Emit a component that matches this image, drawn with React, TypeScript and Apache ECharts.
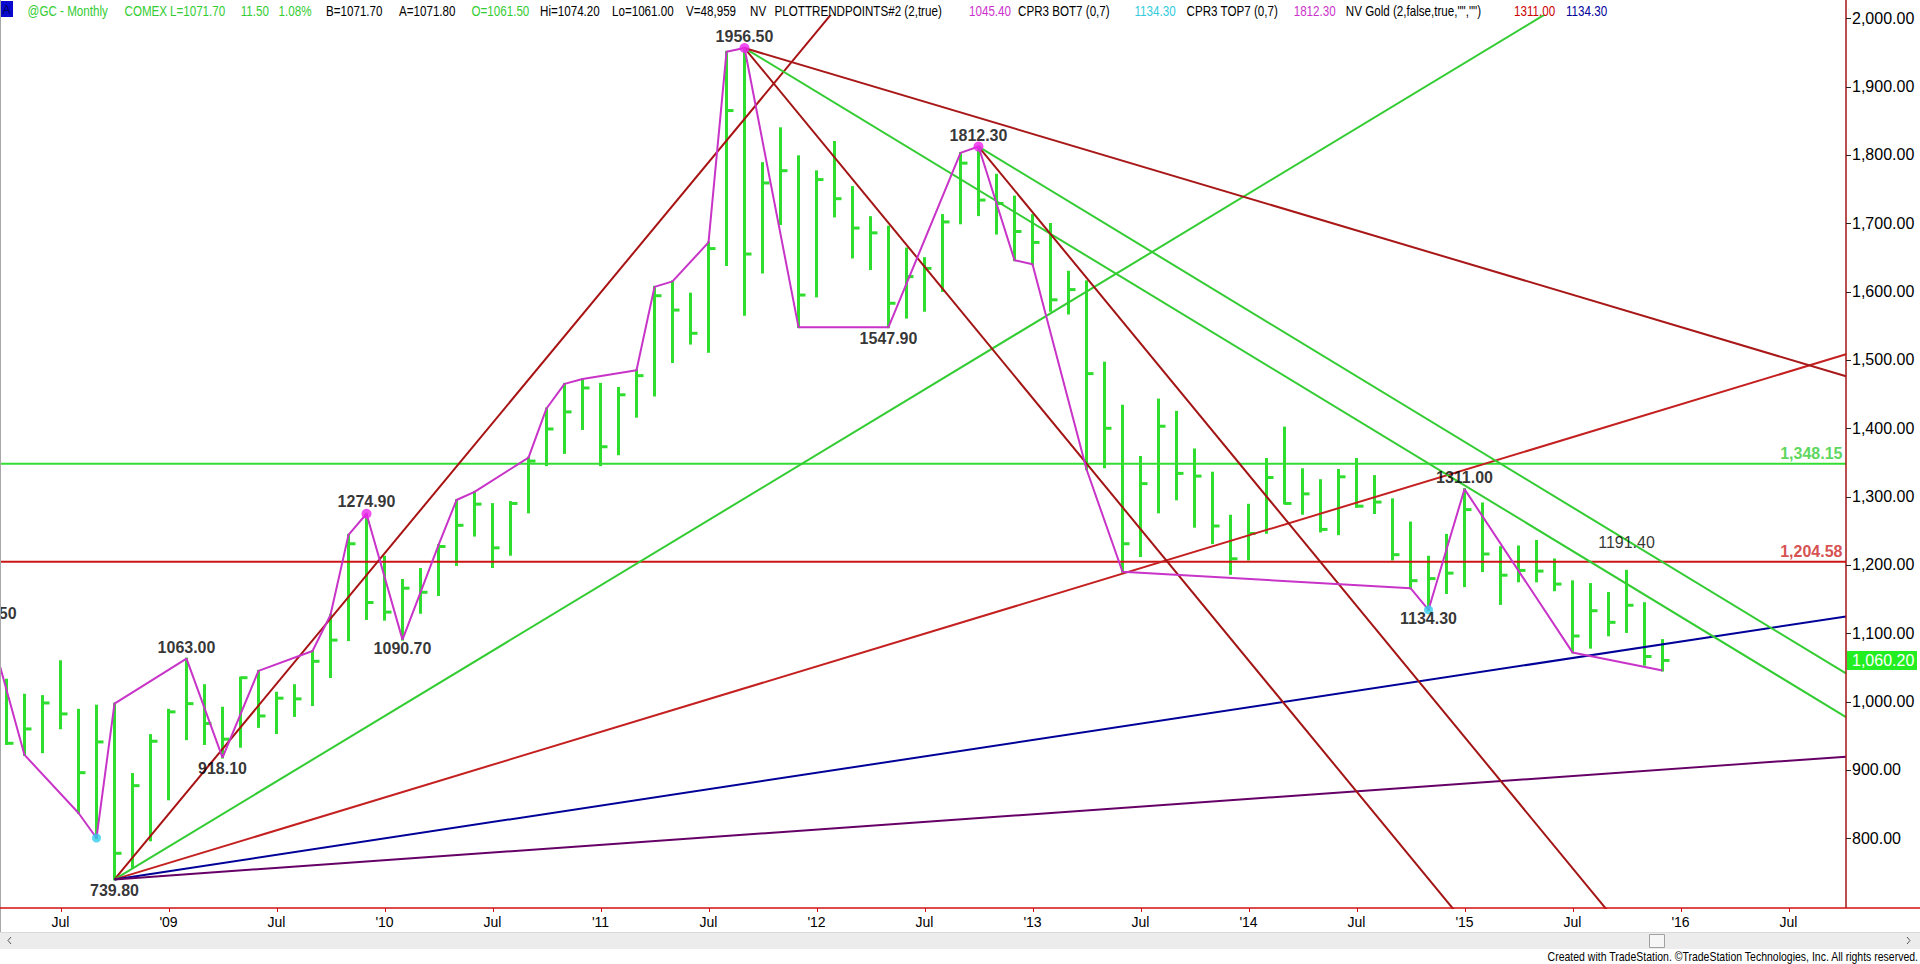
import { useEffect, useRef } from "react";
import * as echarts from "echarts";

const FONT = 'Arial, "Liberation Sans", Helvetica, sans-serif';

// Monthly bars, index 0 = Apr 2008 ... 92 = Dec 2015 (HLC)
const highs = [
  1032, 1010, 1008, 1059, 988, 994, 997, 894, 951, 988,
  1063, 1024, 991, 1035, 1045, 1013, 1024, 1074, 1127, 1244,
  1274.9, 1212, 1178, 1194, 1229, 1295, 1307, 1289, 1292, 1357,
  1429, 1465, 1472, 1465, 1459, 1485, 1607, 1615, 1597, 1672,
  1951, 1956.5, 1788, 1839, 1798, 1776, 1819, 1753, 1709, 1695,
  1663, 1649, 1712, 1803, 1812.3, 1771, 1739, 1712, 1699, 1629,
  1615, 1496, 1433, 1358, 1442, 1424, 1369, 1335, 1272, 1288,
  1355, 1401, 1340, 1324, 1339, 1355, 1330, 1296, 1262, 1212,
  1244, 1311, 1290, 1226, 1227, 1235, 1208, 1176, 1172, 1159,
  1191.4, 1144, 1090,
];
const lows = [
  938, 922, 926, 961, 837, 800, 739.8, 758, 797, 857,
  945, 938, 918.1, 934, 963, 954, 979, 995, 1036, 1090,
  1121, 1120, 1090.7, 1130, 1156, 1200, 1243, 1197, 1215, 1277,
  1346, 1364, 1399, 1346, 1362, 1417, 1448, 1497, 1524, 1512,
  1639, 1566, 1628, 1699, 1548, 1593, 1710, 1650, 1633, 1547.9,
  1562, 1572, 1601, 1700, 1712, 1685, 1646, 1640, 1572, 1568,
  1340, 1343, 1190, 1213, 1277, 1296, 1256, 1232, 1187, 1208,
  1247, 1290, 1275, 1249, 1245, 1285, 1276, 1208, 1166, 1134.3,
  1159, 1169, 1191, 1143, 1176, 1176, 1163, 1072, 1079, 1097,
  1102, 1054, 1045.4,
];
const closes = [
  939, 960, 998, 982, 896, 941, 778, 877, 942, 985,
  997, 968, 945, 1035, 979, 1005, 1004, 1059, 1090, 1231,
  1145, 1131, 1166, 1160, 1227, 1258, 1289, 1225, 1290, 1352,
  1399, 1424, 1459, 1373, 1449, 1477, 1594, 1573, 1539, 1663,
  1865, 1655, 1759, 1777, 1595, 1764, 1736, 1693, 1686, 1583,
  1622, 1634, 1702, 1788, 1734, 1729, 1688, 1672, 1588, 1603,
  1480, 1400, 1231, 1319, 1403, 1334, 1330, 1257, 1209, 1246,
  1328, 1290, 1304, 1252, 1329, 1286, 1292, 1215, 1177, 1180,
  1188, 1281, 1216, 1185, 1192, 1191, 1172, 1096, 1133, 1116,
  1141, 1066, 1060.2,
];

const xTickIdx = [3, 9, 15, 21, 27, 33, 39, 45, 51, 57, 63, 69, 75, 81, 87, 93, 99];
const xTickLabels = ["Jul", "'09", "Jul", "'10", "Jul", "'11", "Jul", "'12", "Jul", "'13", "Jul", "'14", "Jul", "'15", "Jul", "'16", "Jul"];
const yTicks = [800, 900, 1000, 1100, 1200, 1300, 1400, 1500, 1600, 1700, 1800, 1900, 2000];

// zigzag (PlotTrendPoints) vertices
const zzIdx = [-1, 1, 4, 5, 6, 10, 12, 14, 17, 18, 19, 20, 22, 24, 25, 26, 29, 30, 31, 32, 35, 36, 37, 39, 40, 41, 44, 49, 53, 54, 56, 57, 60, 62, 78, 79, 81, 87, 92];
const zzVal = [1112.5, 922, 837, 800.4, 997, 1063, 918.1, 1045, 1074, 1127, 1244, 1274.9, 1090.7, 1229, 1295, 1307, 1357, 1429, 1465, 1472, 1485, 1607, 1615, 1672, 1951, 1956.5, 1548, 1547.9, 1803, 1812.3, 1646, 1640, 1340, 1190, 1166, 1134.3, 1311, 1072, 1045.4];

// pivot dots
const topDots = [[20, 1274.9], [41, 1956.5], [54, 1812.3]];
const bottomDots = [[5, 800.4], [79, 1134.3]];

// pivot labels: idx, value, side, distance
const pivotLabelIdx = [-1, 10, 12, 6, 20, 22, 41, 54, 49, 81, 79, 90];
const pivotLabelVal = [1112.5, 1063, 918.1, 739.8, 1274.9, 1090.7, 1956.5, 1812.3, 1547.9, 1311, 1134.3, 1191.4];
const pivotLabelSide = ["top", "top", "bottom", "bottom", "top", "bottom", "top", "top", "bottom", "top", "bottom", "top"];
const pivotLabelDist = [3, 3, 2, 2.5, 4, 0.5, 3, 3, 2.4, 3, 0.5, 19.5];

// Gann-style fans (price change per bar)
const lowAnchor = [6, 739.8];
const upRates = [31.8, 15.93, 7.99, 4.0, 1.867];
const upColors = ["#A81212", "#33CC33", "#C42020", "#000099", "#660066"];
const peakA = [41, 1956.5];
const peakARates = [-32, -16, -7.85];
const peakAColors = ["#A31414", "#33CC33", "#A81818"];
const peakB = [54, 1812.3];
const peakBRates = [-32, -16];
const peakBColors = ["#A31414", "#33CC33"];

// horizontal levels
const levels = [1348.15, 1204.58];
const levelColors = ["#33DD33", "#CC1515"];
const levelTextColors = ["#33CC33", "#CC2222"];

const lastPrice = 1060.2;

const headerParts: [string, number, string][] = [
  ["@GC - Monthly", 27.6, "#33CC33"],
  ["COMEX", 124.5, "#33CC33"],
  ["L=1071.70", 170, "#33CC33"],
  ["11.50", 240.7, "#33CC33"],
  ["1.08%", 278.6, "#33CC33"],
  ["B=1071.70", 326, "#000000"],
  ["A=1071.80", 399, "#000000"],
  ["O=1061.50", 471.5, "#33CC33"],
  ["Hi=1074.20", 540, "#000000"],
  ["Lo=1061.00", 612, "#000000"],
  ["V=48,959", 686, "#000000"],
  ["NV", 750, "#000000"],
  ["PLOTTRENDPOINTS#2 (2,true)", 774.6, "#000000"],
  ["1045.40", 969, "#CC33CC"],
  ["CPR3 BOT7 (0,7)", 1018, "#000000"],
  ["1134.30", 1134.5, "#33CCDD"],
  ["CPR3 TOP7 (0,7)", 1186.6, "#000000"],
  ["1812.30", 1293.7, "#CC33CC"],
  ['NV Gold (2,false,true,"","")', 1345.8, "#000000"],
  ["1311.00", 1514, "#CC0000"],
  ["1134.30", 1566, "#000099"],
];

const X_MIN = -0.3056;
const X_MAX = 102.194;
const Y_MIN = 697.94;
const Y_MAX = 2003.37;

const BAR = "#2FDD2F";

const fmt2 = (v: number) =>
  v.toLocaleString("en-US", { minimumFractionDigits: 2, maximumFractionDigits: 2 });

function fanSeries(start: number[], rates: number[], colors: string[]) {
  return rates.map((r, i) => ({
    type: "line",
    data: [
      [start[0], start[1]],
      [X_MAX, start[1] + r * (X_MAX - start[0])],
    ],
    symbol: "none",
    clip: true,
    silent: true,
    z: 4,
    lineStyle: { color: colors[i], width: 2 },
  }));
}

function buildOption() {
  const series: any[] = [];
  series.push({
    type: "custom",
    clip: true,
    z: 2,
    silent: true,
    data: highs.map((h, i) => [i, h, lows[i], closes[i]]),
    encode: { x: 0, y: [1, 2, 3] },
    renderItem: (_p: any, api: any) => {
      const x = api.value(0);
      const h = api.coord([x, api.value(1)]);
      const l = api.coord([x, api.value(2)]);
      const c = api.coord([x, api.value(3)]);
      return {
        type: "group",
        children: [
          { type: "line", shape: { x1: h[0], y1: h[1] - 1, x2: l[0], y2: l[1] + 1 }, style: { stroke: BAR, lineWidth: 3 } },
          { type: "line", shape: { x1: c[0], y1: c[1], x2: c[0] + 7, y2: c[1] }, style: { stroke: BAR, lineWidth: 3 } },
        ],
      };
    },
  });
  levels.forEach((v, i) =>
    series.push({
      type: "line",
      data: [[X_MIN, v], [X_MAX, v]],
      symbol: "none",
      silent: true,
      z: 3,
      lineStyle: { color: levelColors[i], width: 2 },
    })
  );
  series.push(...fanSeries(lowAnchor, upRates, upColors));
  series.push(...fanSeries(peakA, peakARates, peakAColors));
  series.push(...fanSeries(peakB, peakBRates, peakBColors));
  series.push({
    type: "line",
    data: zzIdx.map((x, i) => [x, zzVal[i]]),
    symbol: "none",
    silent: true,
    z: 5,
    lineStyle: { color: "#C833C8", width: 2 },
  });
  series.push({
    type: "scatter",
    data: topDots,
    symbolSize: 10,
    z: 6,
    silent: true,
    itemStyle: { color: "#EE22EE" },
  });
  series.push({
    type: "scatter",
    data: bottomDots,
    symbolSize: 9,
    z: 6,
    silent: true,
    itemStyle: { color: "#33CCEE" },
  });
  series.push({
    type: "scatter",
    clip: false,
    symbolSize: 1,
    z: 10,
    silent: true,
    itemStyle: { color: "rgba(0,0,0,0)" },
    data: pivotLabelIdx.map((x, i) => ({
      value: [x, pivotLabelVal[i]],
      label: {
        show: true,
        position: pivotLabelSide[i],
        distance: pivotLabelDist[i],
        formatter: pivotLabelVal[i].toFixed(2),
        fontWeight: i === pivotLabelIdx.length - 1 ? "normal" : "bold",
      },
    })),
    label: { show: true, fontSize: 16, fontFamily: FONT, color: "#000" },
  });
  series.push({
    type: "scatter",
    symbolSize: 1,
    z: 10,
    silent: true,
    itemStyle: { color: "rgba(0,0,0,0)" },
    data: levels.map((v, i) => ({
      value: [X_MAX, v],
      label: {
        show: true,
        position: "left",
        distance: 3,
        offset: [0, -10.5],
        formatter: fmt2(v),
        color: levelTextColors[i],
      },
    })),
    label: { show: true, fontSize: 16, fontWeight: "bold", fontFamily: FONT },
  });

  return {
    animation: false,
    backgroundColor: "#ffffff",
    textStyle: { fontFamily: FONT },
    grid: { left: 1, right: 74, top: 16, bottom: 56, containLabel: false },
    xAxis: {
      type: "value",
      min: X_MIN,
      max: X_MAX,
      axisLine: { show: false },
      splitLine: { show: false },
      axisTick: { show: false },
      axisLabel: {
        show: true,
        customValues: xTickIdx,
        formatter: (v: number) => {
          const k = xTickIdx.indexOf(Math.round(v));
          return k >= 0 ? xTickLabels[k] : "";
        },
        fontSize: 14,
        color: "#000",
        margin: 7,
        fontFamily: FONT,
      },
    },
    yAxis: {
      type: "value",
      position: "right",
      min: Y_MIN,
      max: Y_MAX,
      axisLine: { show: false },
      splitLine: { show: false },
      axisTick: { show: false },
      axisLabel: {
        show: true,
        customValues: yTicks,
        formatter: (v: number) => fmt2(v),
        fontSize: 16,
        color: "#000",
        margin: 6,
        fontFamily: FONT,
      },
    },
    series,
  };
}

function buildGraphic(chart: any) {
  const els: any[] = [];
  els.push({ type: "rect", z: 20, shape: { x: 0, y: 1, width: 13, height: 16 }, style: { fill: "#0A0ACF" } });
  els.push({
    type: "text", z: 21, x: 6.5, y: 9.5,
    style: { text: "A", fill: "#000060", fontSize: 12, fontFamily: FONT, align: "center", verticalAlign: "middle" },
  });
  headerParts.forEach(([t, x, c]) =>
    els.push({
      type: "text", z: 21, x, y: 11, scaleX: 0.83,
      style: { text: t, fill: c, fontSize: 14, fontFamily: FONT, align: "left", verticalAlign: "middle" },
    })
  );
  // frame and axis lines
  els.push({ type: "line", z: 20, shape: { x1: 0.5, y1: 0, x2: 0.5, y2: 949 }, style: { stroke: "#A8A8A8", lineWidth: 1 } });
  els.push({ type: "line", z: 20, shape: { x1: 1846, y1: 0, x2: 1846, y2: 908 }, style: { stroke: "#A51515", lineWidth: 1.5 } });
  els.push({ type: "line", z: 20, shape: { x1: 0, y1: 908, x2: 1920, y2: 908 }, style: { stroke: "#D01010", lineWidth: 1.5 } });
  // axis ticks placed through the axis scales
  yTicks.forEach((v) => {
    const y = Math.round(chart.convertToPixel({ yAxisIndex: 0 }, v)) + 0.5;
    els.push({ type: "line", z: 20, shape: { x1: 1846, y1: y, x2: 1851, y2: y }, style: { stroke: "#222", lineWidth: 1 } });
  });
  xTickIdx.forEach((v) => {
    const x = Math.round(chart.convertToPixel({ xAxisIndex: 0 }, v)) + 0.5;
    els.push({ type: "line", z: 20, shape: { x1: x, y1: 908, x2: x, y2: 912 }, style: { stroke: "#D01010", lineWidth: 1 } });
  });
  // scrollbar
  els.push({ type: "rect", z: 20, shape: { x: 0, y: 932, width: 1920, height: 17 }, style: { fill: "#ECECEC" } });
  els.push({ type: "line", z: 20, shape: { x1: 0, y1: 932.5, x2: 1920, y2: 932.5 }, style: { stroke: "#DADADA", lineWidth: 1 } });
  els.push({ type: "polyline", z: 21, shape: { points: [[11, 937], [8, 940.5], [11, 944]] }, style: { stroke: "#555", fill: null, lineWidth: 1 } });
  els.push({ type: "polyline", z: 21, shape: { points: [[1907, 937], [1910, 940.5], [1907, 944]] }, style: { stroke: "#555", fill: null, lineWidth: 1 } });
  els.push({ type: "rect", z: 21, shape: { x: 1649.5, y: 934.5, width: 15, height: 13 }, style: { fill: "#F6F6F6", stroke: "#A0A0A0", lineWidth: 1 } });
  els.push({
    type: "text", z: 21, x: 1918, y: 957, scaleX: 0.84,
    style: {
      text: "Created with TradeStation. \u00A9TradeStation Technologies, Inc. All rights reserved.",
      fill: "#000", fontSize: 12.5, fontFamily: FONT, align: "right", verticalAlign: "middle",
    },
  });
  // last price marker
  const yMark = chart.convertToPixel({ yAxisIndex: 0 }, lastPrice) as number;
  els.push({ type: "rect", z: 22, shape: { x: 1847, y: yMark - 9.5, width: 70, height: 19 }, style: { fill: "#22EE22" } });
  els.push({
    type: "text", z: 23, x: 1852, y: yMark,
    style: { text: fmt2(lastPrice), fill: "#ffffff", fontSize: 16, fontFamily: FONT, align: "left", verticalAlign: "middle" },
  });
  return els;
}

export default function App() {
  const ref = useRef<HTMLDivElement>(null);
  useEffect(() => {
    if (!ref.current) return;
    const chart = echarts.init(ref.current, null, { renderer: "svg" });
    chart.setOption(buildOption() as any);
    chart.setOption({ graphic: buildGraphic(chart) } as any);
    return () => chart.dispose();
  }, []);
  return (
    <div
      ref={ref}
      style={{ position: "fixed", left: 0, top: 0, width: 1920, height: 964, background: "#fff" }}
    />
  );
}
